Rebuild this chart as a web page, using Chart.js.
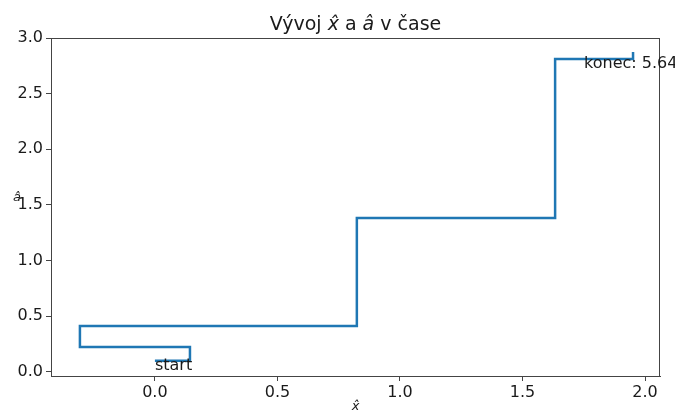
<!DOCTYPE html>
<html>
<head>
<meta charset="utf-8">
<script src="https://cdn.jsdelivr.net/npm/chart.js@4"></script>
<style>
  body { margin: 0; background: #fff; }
  #wrap { width: 675px; height: 411px; }
</style>
</head>
<body>
<div id="wrap"><canvas id="graf"></canvas></div>
<script>
// trajektorie odhadu (x̂, â) po jednotlivých krocích
const xHat = [0.0, 0.143, -0.306, 0.824, 1.633, 1.951]
const aHat = [0.1, 0.225, 0.413, 1.384, 2.812, 2.875]
const xTicks = [0.0, 0.5, 1.0, 1.5, 2.0]
const yTicks = [0.0, 0.5, 1.0, 1.5, 2.0, 2.5, 3.0]
const popisky = [
  { text: "start", x: 0.0, y: 0.1 },
  { text: "konec: 5.64", x: 1.751, y: 2.812 },
]

const FONT = "'DejaVu Sans', sans-serif"
const TEXT = "#1a1a1a"

const body = xHat.map((x, i) => ({ x: x, y: aHat[i] }))

// nadpis, popisky os a anotace kreslíme ručně (kvůli stříškám nad písmeny)
const popiskyPlugin = {
  id: "popisky",
  afterDraw(chart) {
    const ctx = chart.ctx
    const a = chart.chartArea
    const sx = chart.scales.x
    const sy = chart.scales.y
    ctx.save()

    // rámeček kolem grafu
    ctx.strokeStyle = "#444"
    ctx.lineWidth = 1
    ctx.strokeRect(a.left + 0.5, a.top + 0.5, a.right - a.left - 1, a.bottom - a.top)

    // nadpis složený z kousků (normální + kurzíva)
    const casti = [
      ["Vývoj ", "normal"],
      ["x\u0302", "italic"],
      [" a ", "normal"],
      ["a\u0302", "italic"],
      [" v čase", "normal"],
    ]
    let sirka = 0
    for (const [t, s] of casti) {
      ctx.font = s + " 19px " + FONT
      sirka += ctx.measureText(t).width
    }
    let x = (a.left + a.right) / 2 - sirka / 2
    ctx.fillStyle = TEXT
    ctx.textBaseline = "alphabetic"
    ctx.textAlign = "left"
    for (const [t, s] of casti) {
      ctx.font = s + " 19px " + FONT
      ctx.fillText(t, x, 30)
      x += ctx.measureText(t).width
    }

    // popisky os
    ctx.font = "italic 13px " + FONT
    ctx.textAlign = "center"
    ctx.fillText("x\u0302", (a.left + a.right) / 2, 410)
    ctx.fillText("a\u0302", 17, 201)

    // anotace start / konec
    ctx.font = "16px " + FONT
    ctx.textAlign = "left"
    ctx.textBaseline = "top"
    for (const p of popisky) {
      ctx.fillText(p.text, sx.getPixelForValue(p.x), sy.getPixelForValue(p.y) - 3)
    }
    ctx.restore()
  },
}

const config = {
  type: "scatter",
  data: {
    datasets: [
      {
        data: body,
        showLine: true,
        stepped: true,
        borderColor: "#1f77b4",
        borderWidth: 2.5,
        pointRadius: 0,
        fill: false,
      },
    ],
  },
  options: {
    responsive: false,
    animation: false,
    layout: { padding: { top: 38, right: 15, left: 0, bottom: 0 } },
    plugins: { legend: { display: false }, tooltip: { enabled: false } },
    scales: {
      x: {
        type: "linear",
        min: -0.424,
        max: 2.061,
        afterBuildTicks: (s) => { s.ticks = xTicks.map((v) => ({ value: v })) },
        afterFit: (s) => { s.height = 35 },
        grid: { drawOnChartArea: false, tickLength: 5, color: "#444" },
        border: { color: "#444" },
        ticks: {
          color: TEXT,
          font: { family: FONT, size: 16 },
          padding: 2,
          maxRotation: 0,
          callback: (v) => v.toFixed(1),
        },
      },
      y: {
        type: "linear",
        min: -0.036,
        max: 3.0,
        afterBuildTicks: (s) => { s.ticks = yTicks.map((v) => ({ value: v })) },
        afterFit: (s) => { s.width = 51 },
        grid: { drawOnChartArea: false, tickLength: 5, color: "#444" },
        border: { color: "#444" },
        ticks: {
          color: TEXT,
          font: { family: FONT, size: 16 },
          padding: 3,
          callback: (v) => v.toFixed(1),
        },
      },
    },
  },
  plugins: [popiskyPlugin],
}

const canvas = document.getElementById("graf")
canvas.width = 675
canvas.height = 411
new Chart(canvas, config)
</script>
</body>
</html>
